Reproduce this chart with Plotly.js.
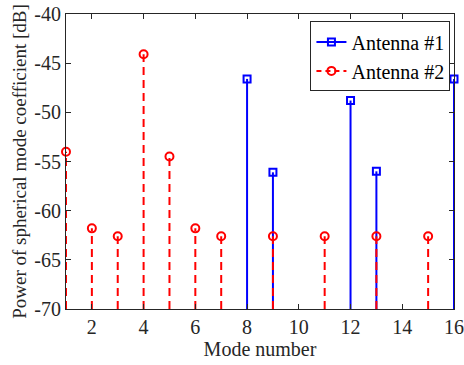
<!DOCTYPE html>
<html>
<head>
<meta charset="utf-8">
<script src="https://cdn.plot.ly/plotly-3.0.1.min.js"></script>
<style>html,body{margin:0;padding:0;background:#fff;}#chart{width:464px;height:365px;}</style>
</head>
<body>
<div id="chart"></div>
<script>
// Data
const modes1 = [8, 9, 12, 13, 16];
const power1 = [-46.6, -56.1, -48.8, -56.0, -46.6];
const modes2 = [1, 2, 3, 4, 5, 6, 7, 9, 11, 13, 15];
const power2 = [-54.0, -61.8, -62.6, -44.1, -54.5, -61.8, -62.6, -62.6, -62.6, -62.6, -62.6];
const baseline = -70;
const xTicks = [2, 4, 6, 8, 10, 12, 14, 16];
const yTicks = [-70, -65, -60, -55, -50, -45, -40];

function stems(xs, ys) {
  const sx = [], sy = [];
  xs.forEach((x, i) => { sx.push(x, x, null); sy.push(baseline, ys[i], null); });
  return {x: sx, y: sy};
}

const blue = '#0000ff', red = '#ff0000';
const s1 = stems(modes1, power1), s2 = stems(modes2, power2);
const font = 'Liberation Serif';

const traces = [
  {x: s1.x, y: s1.y, mode: 'lines', line: {color: blue, width: 2}, showlegend: false, hoverinfo: 'skip'},
  {x: modes1, y: power1, mode: 'markers', marker: {symbol: 'square-open', size: 7, color: blue, line: {width: 2}}, showlegend: false, cliponaxis: false},
  {x: s2.x, y: s2.y, mode: 'lines', line: {color: red, width: 2, dash: '8px,5px'}, showlegend: false, hoverinfo: 'skip'},
  {x: modes2, y: power2, mode: 'markers', marker: {symbol: 'circle-open', size: 8, color: red, line: {width: 2}}, showlegend: false, cliponaxis: false},
  {x: [null], y: [null], name: 'Antenna #1', mode: 'lines+markers', line: {color: blue, width: 2}, marker: {symbol: 'square-open', size: 7, color: blue, line: {width: 2}}},
  {x: [null], y: [null], name: 'Antenna #2', mode: 'lines+markers', line: {color: red, width: 2, dash: '5px,4px'}, marker: {symbol: 'circle-open', size: 8, color: red, line: {width: 2}}}
];

const axisCommon = {
  showgrid: false, zeroline: false, showline: true, linecolor: '#262626', linewidth: 1,
  mirror: 'ticks', ticks: 'inside', ticklen: 5, tickcolor: '#262626',
  tickfont: {family: font, size: 20, color: '#262626'}, automargin: false,
  ticklabeloverflow: 'allow'
};

const layout = {
  width: 464, height: 365,
  margin: {l: 66, r: 10, t: 14, b: 56},
  paper_bgcolor: '#fff', plot_bgcolor: '#fff',
  font: {family: font, color: '#262626'},
  xaxis: Object.assign({}, axisCommon, {
    range: [1, 16], tickvals: xTicks, ticktext: xTicks.map(String),
    title: {text: 'Mode number', font: {family: font, size: 20, color: '#262626'}, standoff: 4}
  }),
  yaxis: Object.assign({}, axisCommon, {
    range: [-70, -40], tickvals: yTicks, ticktext: yTicks.map(v => '-' + Math.abs(v)),
    title: {text: 'Power of spherical mode coefficient [dB]', font: {family: font, size: 19, color: '#262626'}, standoff: 2}
  }),
  legend: {
    x: 0.63, y: 0.975, xanchor: 'left', yanchor: 'top',
    bgcolor: '#fff', bordercolor: '#262626', borderwidth: 1,
    font: {family: font, size: 20, color: '#000'},
    tracegroupgap: 0, itemwidth: 30
  },
  showlegend: true
};

Plotly.newPlot('chart', traces, layout, {staticPlot: true, displayModeBar: false});
</script>
</body>
</html>
